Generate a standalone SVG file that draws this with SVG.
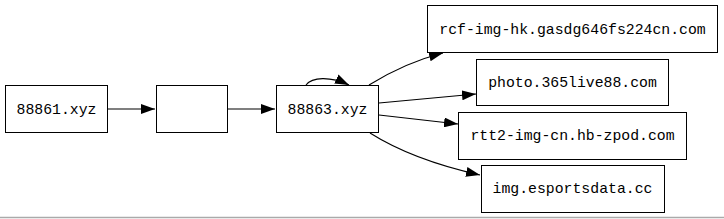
<svg xmlns="http://www.w3.org/2000/svg" width="724" height="219" viewBox="0 0 724 219">
<defs>
<marker id="ah" markerWidth="14" markerHeight="10" refX="14" refY="5" orient="auto" markerUnits="userSpaceOnUse">
<path d="M0,0 L14,5 L0,10 Z" fill="#000"/>
</marker>
</defs>
<style>
.n rect{fill:#fff;stroke:#000;stroke-width:1}
.n text{font-family:"Liberation Mono",monospace;font-size:14.8px;fill:#000;text-anchor:middle}
.e path{fill:none;stroke:#000;stroke-width:1.1;marker-end:url(#ah)}
</style>
<rect x="0" y="0" width="724" height="219" fill="#fff"/>
<line x1="0" y1="217.5" x2="724" y2="217.5" stroke="#aaa" stroke-width="1.5"/>
<g id="connectors" class="e">
<path d="M108,109 L155,109"/>
<path d="M228,109 L275,109"/>
<path d="M306,85 C312,77 330,76 349,85"/>
<path d="M369,85 C390,72 415,60 443,53"/>
<path d="M379,103 L476,94"/>
<path d="M379,115 L458,124"/>
<path d="M370,133 C400,152 440,166 480,175"/>
</g>
<g id="n1" class="n"><rect x="5.5" y="85.5" width="102" height="47"/><text x="56.5" y="114">88861.xyz</text></g>
<g id="n2" class="n"><rect x="156.5" y="85.5" width="71" height="47"/></g>
<g id="n3" class="n"><rect x="276.5" y="85.5" width="102" height="47"/><text x="327.5" y="114">88863.xyz</text></g>
<g id="n4" class="n"><rect x="427.5" y="5.5" width="290" height="47"/><text x="572.5" y="34">rcf-img-hk.gasdg646fs224cn.com</text></g>
<g id="n5" class="n"><rect x="476.5" y="59.5" width="192" height="46"/><text x="572.5" y="87">photo.365live88.com</text></g>
<g id="n6" class="n"><rect x="458.5" y="112.5" width="228" height="47"/><text x="572.5" y="140">rtt2-img-cn.hb-zpod.com</text></g>
<g id="n7" class="n"><rect x="481.5" y="165.5" width="183" height="47"/><text x="572.5" y="193">img.esportsdata.cc</text></g>
</svg>
